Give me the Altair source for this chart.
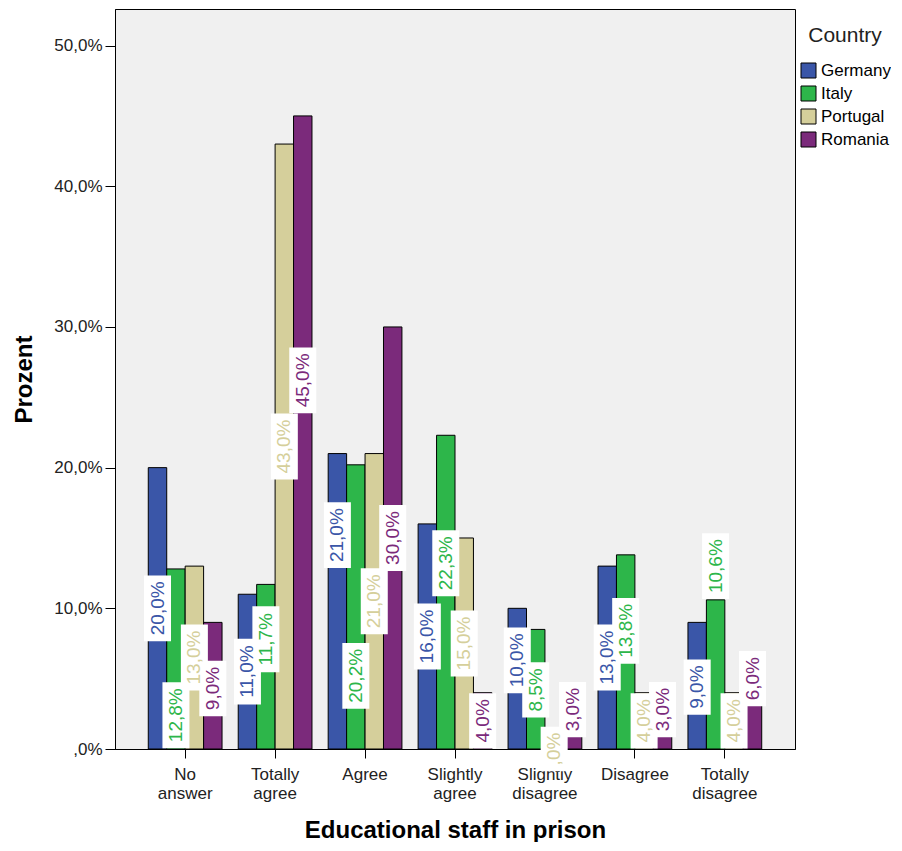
import altair as alt
import pandas as pd

categories = ["No answer", "Totally agree", "Agree", "Slightly agree",
              "Slightly disagree", "Disagree", "Totally disagree"]
countries = ["Germany", "Italy", "Portugal", "Romania"]

# bar heights (percent)
germany = [20.0, 11.0, 21.0, 16.0, 10.0, 13.0, 9.0]
italy = [12.8, 11.7, 20.2, 22.3, 8.5, 13.8, 10.6]
portugal = [13.0, 43.0, 21.0, 15.0, 0.0, 4.0, 4.0]
romania = [9.0, 45.0, 30.0, 4.0, 1.0, 1.0, 6.0]

# values printed in the data labels
germany_lbl = [20.0, 11.0, 21.0, 16.0, 10.0, 13.0, 9.0]
italy_lbl = [12.8, 11.7, 20.2, 22.3, 8.5, 13.8, 10.6]
portugal_lbl = [13.0, 43.0, 21.0, 15.0, 0.0, 4.0, 4.0]
romania_lbl = [9.0, 45.0, 30.0, 4.0, 3.0, 3.0, 6.0]

# where each data label sits (percent axis units)
germany_at = [10.0, 5.5, 15.2, 8.0, 6.3, 6.5, 4.4]
italy_at = [2.4, 7.8, 5.2, 13.2, 4.2, 8.4, 13.0]
portugal_at = [6.5, 21.5, 10.5, 7.5, 0.0, 2.0, 2.0]
romania_at = [4.3, 26.2, 15.0, 2.0, 2.8, 2.8, 5.0]

colors = ["#3A56A8", "#2DB64A", "#D5CF9B", "#7B2A7B"]


def fmt(v):
    s = f"{v:.1f}".replace(".", ",")
    if s.startswith("0,"):
        s = s[1:]
    return s + "%"


rows = []
for c, vals, lv, la in zip(countries,
                           [germany, italy, portugal, romania],
                           [germany_lbl, italy_lbl, portugal_lbl, romania_lbl],
                           [germany_at, italy_at, portugal_at, romania_at]):
    for cat, v, l, a in zip(categories, vals, lv, la):
        rows.append(dict(category=cat, country=c, value=v, label=fmt(l), label_at=a))
df = pd.DataFrame(rows)

Y_MAX = 52.6
PLOT_W = 680
PLOT_H = 740
PX_PER_UNIT = PLOT_H / Y_MAX
FONT = "Liberation Sans"
LBL_SIZE = 19

x_enc = alt.X(
    "category:N", sort=categories,
    scale=alt.Scale(paddingInner=0.18, paddingOuter=0.37),
    axis=alt.Axis(labelAngle=0, labelExpr="split(datum.label, ' ')",
                  labelFontSize=17, labelLineHeight=19, tickSize=9, labelPadding=8,
                  titleFontSize=24, titleFontWeight="bold", titlePadding=17,
                  labelColor="#222222", titleColor="#000000"),
    title="Educational staff in prison",
)
xo = alt.XOffset("country:N", sort=countries,
                 scale=alt.Scale(paddingInner=0, paddingOuter=0))
y_axis = alt.Axis(values=[0, 10, 20, 30, 40, 50],
                  labelExpr="replace(replace(format(datum.value, '.1f'), '.', ','), /^0,/, ',') + '%'",
                  labelFontSize=17, tickSize=10, labelPadding=3, grid=False,
                  titleFontSize=24, titleFontWeight="bold", titlePadding=17,
                  labelColor="#222222", titleColor="#000000")
y_scale = alt.Scale(domain=[0, Y_MAX], nice=False, zero=True)

color_scale = alt.Scale(domain=countries, range=colors)

bars = alt.Chart(df).mark_bar(stroke="black", strokeWidth=1).encode(
    x=x_enc, xOffset=xo,
    y=alt.Y("value:Q", scale=y_scale, axis=y_axis, title="Prozent"),
    color=alt.Color("country:N", sort=countries, scale=color_scale,
                    legend=alt.Legend(title="Country", orient="none",
                                      legendX=685, legendY=16,
                                      titleFontSize=21, titleFontWeight="normal",
                                      titleAnchor="middle", titlePadding=16,
                                      symbolType="square", symbolSize=225,
                                      symbolStrokeColor="black", symbolStrokeWidth=1,
                                      labelFontSize=17, rowPadding=4, labelOffset=4,
                                      labelColor="#000000", titleColor="#222222")),
)

boxes = alt.Chart(df).transform_calculate(
    half=f"({LBL_SIZE}*(0.556*(length(datum.label)-2)+1.167)+12)/2/{PX_PER_UNIT}"
).transform_calculate(
    y0="datum.label_at - datum.half", y1="datum.label_at + datum.half"
).mark_rect(fill="white", width=27).encode(
    x=x_enc, xOffset=xo,
    y=alt.Y("y0:Q", scale=y_scale, axis=y_axis, title="Prozent"),
    y2="y1:Q",
)

texts = alt.Chart(df).mark_text(angle=270, fontSize=LBL_SIZE, font=FONT,
                                align="center", baseline="middle").encode(
    x=x_enc, xOffset=xo,
    y=alt.Y("label_at:Q", scale=y_scale, axis=y_axis, title="Prozent"),
    text="label:N",
    color=alt.Color("country:N", sort=countries, scale=color_scale, legend=None),
)

chart = alt.layer(bars, boxes, texts).properties(
    width=PLOT_W, height=PLOT_H,
    padding={"left": 4, "top": 1, "right": 0, "bottom": 0},
).configure_view(
    fill="#F0F0F0", stroke="black", strokeWidth=1
).configure_axis(
    domainColor="black", tickColor="black", labelFont=FONT, titleFont=FONT,
).configure_legend(
    labelFont=FONT, titleFont=FONT
)

chart.save("out.html", embed_options={"renderer": "svg", "actions": False})
